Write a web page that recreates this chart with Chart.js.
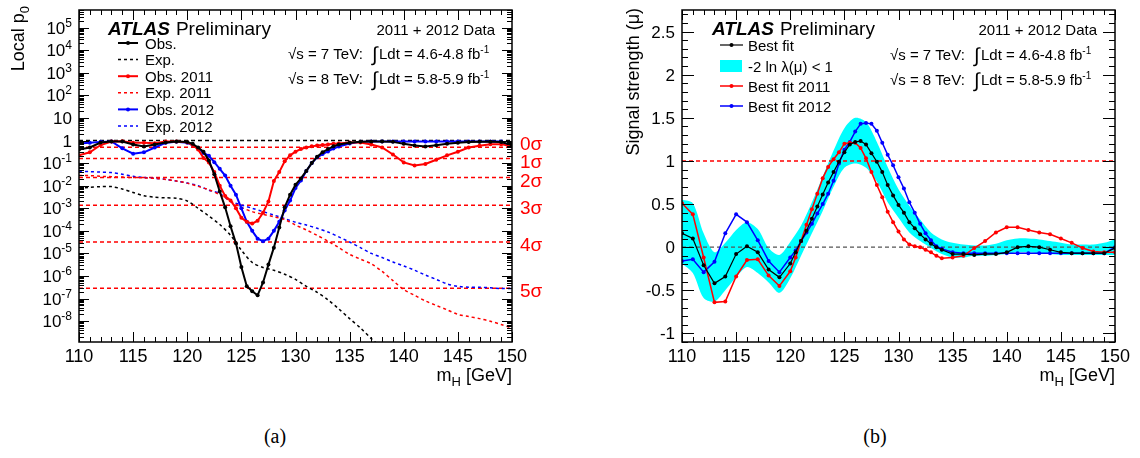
<!DOCTYPE html>
<html lang="en">
<head>
<meta charset="UTF-8" />
<title>Local p0 and signal strength vs mH</title>
<script src="https://cdn.jsdelivr.net/npm/chart.js@4.4.1/dist/chart.umd.min.js"></script>
<style>
  body { margin: 0; background: #fff; }
  #wrap { position: relative; width: 1140px; height: 458px; overflow: hidden; }
  canvas { position: absolute; top: 0; }
  #pvalue { left: 0; }
  #signal { left: 570px; }
  .caption {
    position: absolute; top: 425px; width: 60px; margin-left: -30px; text-align: center;
    font: 20px "Liberation Serif", "Times New Roman", serif;
  }
</style>
</head>
<body>
<div id="wrap">
  <canvas id="pvalue" width="570" height="400"></canvas>
  <canvas id="signal" width="570" height="400"></canvas>
  <div class="caption" style="left:275px">(a)</div>
  <div class="caption" style="left:875px">(b)</div>
</div>
<script>
// mass points in GeV
const massFine = [110, 111, 112, 113, 114, 115, 116, 117, 118, 119, 120,
  120.5, 121, 121.5, 122, 122.5, 123, 123.5, 124, 124.5, 125, 125.5, 126, 126.5, 127,
  127.5, 128, 128.5, 129, 129.5, 130, 130.5, 131, 131.5, 132, 132.5, 133, 133.5, 134,
  135, 136, 137, 138, 139, 140, 141, 142, 143, 144, 145, 146, 147, 148, 149, 150];
const massCoarse = [110, 111, 112, 113, 114, 115, 116, 117, 118, 119, 120, 121, 122, 123,
  124, 125, 126, 127, 128, 129, 130, 131, 132, 133, 134, 135, 136, 137, 138, 139, 140,
  141, 142, 143, 144, 145, 146, 147, 148, 149, 150];
const massRange = [110, 150];
const massTicks = [110, 115, 120, 125, 130, 135, 140, 145, 150];

// local p0, observed (fine grid)
const obsP0 = [0.40, 0.49, 0.81, 0.91, 0.91, 0.66, 0.54, 0.66, 0.81, 0.91, 0.85,
  0.71, 0.49, 0.32, 0.13, 0.032, 5.5e-3, 1.1e-3, 1.6e-4, 2.8e-5, 2.5e-6, 3.5e-7, 2.1e-7, 1.4e-7, 5.2e-7,
  3.2e-6, 1.8e-5, 1.4e-4, 1.1e-3, 4.0e-3, 0.011, 0.021, 0.045, 0.10, 0.19, 0.30, 0.42, 0.55, 0.66,
  0.79, 0.89, 0.91, 0.91, 0.87, 0.72, 0.60, 0.54, 0.62, 0.71, 0.79, 0.85, 0.89, 0.89, 0.85, 0.63];
const obs2011P0 = [0.22, 0.30, 0.63, 0.91, 0.93, 0.79, 0.79, 0.76, 0.91, 0.91, 0.83,
  0.63, 0.40, 0.17, 0.105, 0.040, 0.010, 3.5e-3, 2.2e-3, 1.0e-3, 3.8e-4, 2.5e-4, 2.1e-4, 2.8e-4, 6.3e-4,
  2.0e-3, 0.016, 0.040, 0.12, 0.22, 0.32, 0.42, 0.49, 0.55, 0.60, 0.63, 0.66, 0.71, 0.74,
  0.81, 0.81, 0.66, 0.49, 0.24, 0.107, 0.079, 0.091, 0.14, 0.22, 0.32, 0.49, 0.58, 0.69, 0.69, 0.54];
const obs2012P0 = [0.74, 0.79, 0.87, 0.91, 0.45, 0.26, 0.30, 0.49, 0.79, 0.87, 0.79,
  0.63, 0.47, 0.28, 0.21, 0.11, 0.056, 0.028, 0.010, 4.0e-3, 1.0e-3, 2.5e-4, 1.0e-4, 4.5e-5, 3.5e-5,
  4.5e-5, 1.0e-4, 2.5e-4, 7.9e-4, 2.2e-3, 7.9e-3, 0.017, 0.045, 0.10, 0.18, 0.25, 0.33, 0.44, 0.54,
  0.74, 0.87, 0.91, 0.91, 0.91, 0.91, 0.91, 0.91, 0.91, 0.91, 0.91, 0.91, 0.91, 0.91, 0.91, 0.54];

// local p0, expected (coarse grid; combined leaves the axis after 138 GeV)
const expP0 = [7.6e-3, 8.5e-3, 9.1e-3, 9.1e-3, 7.1e-3, 5.0e-3, 3.6e-3, 3.1e-3, 2.9e-3, 2.8e-3,
  2.1e-3, 1.0e-3, 4.5e-4, 1.9e-4, 6.3e-5, 1.4e-5, 4.0e-6, 2.4e-6, 1.8e-6, 1.2e-6, 7.1e-7,
  3.5e-7, 1.9e-7, 8.9e-8, 3.5e-8, 1.3e-8, 5.0e-9, 1.7e-9, 6.3e-10];
const exp2011P0 = [0.028, 0.028, 0.026, 0.025, 0.024, 0.023, 0.022, 0.021, 0.019, 0.016,
  0.013, 9.3e-3, 6.6e-3, 4.0e-3, 2.1e-3, 1.1e-3, 7.1e-4, 5.4e-4, 4.2e-4, 3.2e-4, 1.8e-4,
  1.1e-4, 6.3e-5, 3.5e-5, 1.8e-5, 9.1e-6, 5.6e-6, 3.5e-6, 1.6e-6, 6.3e-7, 2.5e-7,
  1.4e-7, 7.9e-8, 5.0e-8, 3.2e-8, 2.0e-8, 1.6e-8, 1.3e-8, 1.0e-8, 7.1e-9, 5.0e-9];
const exp2012P0 = [0.043, 0.042, 0.040, 0.038, 0.032, 0.026, 0.023, 0.021, 0.019, 0.016,
  0.013, 0.010, 6.3e-3, 4.5e-3, 2.0e-3, 1.4e-3, 1.0e-3, 7.1e-4, 5.0e-4, 3.5e-4, 2.4e-4,
  1.8e-4, 1.3e-4, 8.9e-5, 5.4e-5, 3.2e-5, 1.8e-5, 1.0e-5, 6.6e-6, 4.2e-6, 2.8e-6,
  1.8e-6, 1.1e-6, 7.1e-7, 4.5e-7, 3.5e-7, 3.2e-7, 3.2e-7, 3.0e-7, 2.8e-7, 2.8e-7];

const sigmaP0 = [0.5, 0.1587, 0.02275, 1.35e-3, 3.17e-5, 2.87e-7];
const sigmaNames = ['0σ', '1σ', '2σ', '3σ', '4σ', '5σ'];
const p0Exponents = [5, 4, 3, 2, 1, 0, -1, -2, -3, -4, -5, -6, -7, -8];

// signal strength best fits (fine grid)
const muBest = [0.16, 0.10, -0.21, -0.42, -0.34, -0.08, 0.01, -0.06, -0.26, -0.35, -0.19,
  -0.06, 0.07, 0.19, 0.33, 0.47, 0.61, 0.75, 0.87, 0.99, 1.10, 1.19, 1.22, 1.23, 1.19,
  1.09, 0.99, 0.87, 0.72, 0.60, 0.49, 0.40, 0.29, 0.22, 0.15, 0.09, 0.04, 0.00, -0.03,
  -0.08, -0.08, -0.09, -0.08, -0.08, -0.06, 0.00, 0.01, 0.00, -0.03, -0.06, -0.07, -0.07, -0.07, -0.07, -0.01];
const mu2011 = [0.51, 0.38, -0.12, -0.64, -0.63, -0.34, -0.15, -0.14, -0.33, -0.45, -0.28,
  -0.12, 0.07, 0.26, 0.44, 0.62, 0.80, 0.93, 1.02, 1.10, 1.20, 1.21, 1.21, 1.15, 1.03,
  0.87, 0.72, 0.58, 0.41, 0.29, 0.18, 0.09, 0.03, 0.01, 0.00, -0.03, -0.06, -0.10, -0.13,
  -0.12, -0.10, -0.01, 0.07, 0.17, 0.23, 0.23, 0.20, 0.17, 0.15, 0.10, 0.05, -0.01, -0.05, -0.06, -0.06];
const mu2012 = [-0.16, -0.14, -0.29, -0.17, 0.16, 0.38, 0.29, 0.08, -0.16, -0.29, -0.12,
  -0.04, 0.07, 0.17, 0.27, 0.39, 0.50, 0.62, 0.77, 0.97, 1.13, 1.22, 1.34, 1.43, 1.44,
  1.43, 1.35, 1.21, 1.07, 0.95, 0.81, 0.68, 0.52, 0.40, 0.27, 0.16, 0.08, 0.01, -0.02,
  -0.06, -0.07, -0.07, -0.07, -0.07, -0.07, -0.07, -0.07, -0.07, -0.07, -0.07, -0.07, -0.07, -0.07, -0.07, 0.00];

// -2 ln lambda(mu) < 1 band edges (coarse grid)
const muBandHi = [0.55, 0.51, 0.16, -0.06, 0.05, 0.20, 0.29, 0.21, -0.01, -0.09, 0.06,
  0.25, 0.52, 0.82, 1.12, 1.38, 1.50, 1.45, 1.22, 0.93, 0.67, 0.48, 0.32, 0.17, 0.09,
  0.05, 0.03, 0.02, 0.02, 0.04, 0.08, 0.10, 0.10, 0.09, 0.07, 0.05, 0.03, 0.03, 0.03, 0.05, 0.09];
const muBandLo = [-0.19, -0.30, -0.59, -0.63, -0.50, -0.35, -0.23, -0.30, -0.41, -0.53, -0.36,
  -0.10, 0.16, 0.42, 0.70, 0.92, 0.97, 0.92, 0.76, 0.52, 0.34, 0.17, 0.07, -0.01, -0.08,
  -0.12, -0.12, -0.10, -0.10, -0.09, -0.08, -0.06, -0.06, -0.07, -0.08, -0.09, -0.09, -0.09, -0.09, -0.09, -0.09];
const muTicks = [-1, -0.5, 0, 0.5, 1, 1.5, 2, 2.5];

const FONT = '"Liberation Sans", Arial, Helvetica, sans-serif';
const RED = '#ff0000', BLUE = '#0000ff', CYAN = '#00ffff';

const xy = (xs, ys) => ys.map((y, i) => ({ x: xs[i], y }));
const hline = v => massRange.map(x => ({ x, y: v }));

function solid(label, xs, ys, color, width) {
  return { label, data: xy(xs, ys), borderColor: color, backgroundColor: color,
    borderWidth: width, pointRadius: 2, pointBorderWidth: 0, fill: false, tension: 0 };
}
function dashed(label, xs, ys, color) {
  return { label, data: xy(xs, ys), borderColor: color, borderWidth: 1.5, borderDash: [3, 3],
    pointRadius: 0, fill: false, tension: 0.3 };
}
function refLine(v, color, width) {
  return { data: hline(v), borderColor: color, borderWidth: width, borderDash: [4, 3],
    pointRadius: 0, fill: false };
}

// text made of runs, for sub/superscripts
function runs(ctx, parts, x, y, align) {
  const font = p => `${p.style || ''} ${p.size}px ${FONT}`;
  let w = 0;
  for (const p of parts) { ctx.font = font(p); w += ctx.measureText(p.t).width + (p.gap || 0); }
  let cx = align === 'right' ? x - w : align === 'center' ? x - w / 2 : x;
  ctx.textAlign = 'left';
  ctx.textBaseline = 'alphabetic';
  for (const p of parts) {
    ctx.font = font(p);
    ctx.fillText(p.t, cx, y + (p.dy || 0));
    cx += ctx.measureText(p.t).width + (p.gap || 0);
  }
}

// inward ticks on all four sides, frame, x labels and x title
function frameAndTicks(chart, yMarks, yMaj, yMin) {
  const { ctx, chartArea: a, scales: { x } } = chart;
  const y = chart.scales.y;
  ctx.save();
  ctx.strokeStyle = '#000';
  ctx.lineWidth = 1;
  ctx.beginPath();
  for (let m = x.min; m <= x.max; m++) {
    const px = Math.round(x.getPixelForValue(m)) + 0.5;
    const len = m % 5 === 0 ? 10 : 5;
    ctx.moveTo(px, a.bottom); ctx.lineTo(px, a.bottom - len);
    ctx.moveTo(px, a.top); ctx.lineTo(px, a.top + len);
  }
  for (const t of yMarks) {
    const py = Math.round(y.getPixelForValue(t.v)) + 0.5;
    const len = t.major ? yMaj : yMin;
    ctx.moveTo(a.left, py); ctx.lineTo(a.left + len, py);
    ctx.moveTo(a.right, py); ctx.lineTo(a.right - len, py);
  }
  ctx.stroke();
  ctx.lineWidth = 1.5;
  ctx.strokeRect(a.left, a.top, a.right - a.left, a.bottom - a.top);
  ctx.fillStyle = '#000';
  for (const m of massTicks) runs(ctx, [{ t: String(m), size: 18 }], x.getPixelForValue(m), a.bottom + 20, 'center');
  runs(ctx, [{ t: 'm', size: 18 }, { t: 'H', size: 13, dy: 5 }, { t: ' [GeV]', size: 18 }],
    a.right, a.bottom + 39, 'right');
  ctx.restore();
}

function header(ctx, atlasX, x0, xr, b) {
  ctx.fillStyle = '#000';
  runs(ctx, [{ t: 'ATLAS', size: 19, style: 'italic bold', gap: 6 }, { t: 'Preliminary', size: 19 }], atlasX, 35);
  runs(ctx, [{ t: '2011 + 2012 Data', size: 15 }], xr, b[0], 'right');
  [['7', '4.6-4.8', b[1]], ['8', '5.8-5.9', b[2]]].forEach(([e, l, base]) => {
    runs(ctx, [{ t: '√s = ' + e + ' TeV:', size: 15 }], x0, base);
    runs(ctx, [{ t: '∫', size: 20, dy: 2 }], x0 + 84, base);
    runs(ctx, [{ t: 'Ldt = ' + l + ' fb', size: 15 }, { t: '-1', size: 10, dy: -6 }], x0 + 91, base);
  });
}

function legendRow(ctx, ds, x1, x2, cy, textX) {
  ctx.strokeStyle = ds.borderColor;
  ctx.lineWidth = ds.borderWidth;
  ctx.setLineDash(ds.borderDash || []);
  ctx.beginPath(); ctx.moveTo(x1, cy); ctx.lineTo(x2, cy); ctx.stroke();
  ctx.setLineDash([]);
  if (ds.pointRadius) {
    ctx.fillStyle = ds.borderColor;
    ctx.beginPath(); ctx.arc((x1 + x2) / 2, cy, 2, 0, 2 * Math.PI); ctx.fill();
  }
  ctx.fillStyle = '#000';
  runs(ctx, [{ t: ds.label, size: 15 }], textX, cy + 5.5);
}

function baseOptions(yScale, yWidth, rightPad) {
  return {
    responsive: false, animation: false, events: [], devicePixelRatio: 1,
    layout: { padding: { top: 10, right: rightPad, bottom: 0, left: 0 } },
    scales: {
      x: { type: 'linear', min: massRange[0], max: massRange[1], grid: { display: false },
        border: { display: false }, ticks: { display: false }, afterFit: s => { s.height = 58; } },
      y: Object.assign({ grid: { display: false }, border: { display: false },
        ticks: { display: false }, afterFit: s => { s.width = yWidth; } }, yScale)
    },
    plugins: { legend: { display: false }, tooltip: { enabled: false } }
  };
}

const pvalueDecor = {
  id: 'pvalueDecor',
  afterDatasetsDraw(chart) {
    const { ctx, chartArea: a, scales: { y } } = chart;
    const marks = [];
    for (let e = -9; e <= 5; e++) {
      for (let k = 1; k <= 9; k++) {
        const v = k * Math.pow(10, e);
        if (v >= y.min && v <= y.max) marks.push({ v, major: k === 1 });
      }
    }
    frameAndTicks(chart, marks, 10, 5);
    ctx.save();
    ctx.fillStyle = '#000';
    for (const e of p0Exponents) {
      const base = y.getPixelForValue(Math.pow(10, e)) + 6;
      const parts = e === 0 ? [{ t: '1', size: 17 }] : e === 1 ? [{ t: '10', size: 17 }]
        : [{ t: '10', size: 17 }, { t: String(e), size: 12, dy: -7 }];
      runs(ctx, parts, a.left - 7, base, 'right');
    }
    ctx.save();
    ctx.translate(24, 6);
    ctx.rotate(-Math.PI / 2);
    runs(ctx, [{ t: 'Local p', size: 18 }, { t: '0', size: 13, dy: 5 }], 0, 0, 'right');
    ctx.restore();
    ctx.fillStyle = RED;
    sigmaP0.forEach((p, i) => {
      runs(ctx, [{ t: sigmaNames[i], size: 19 }], a.right + 8, y.getPixelForValue(p) + (i === 0 ? 3 : 9));
    });
    header(ctx, 108, 288, 495, [35, 59, 84]);
    [0, 3, 1, 4, 2, 5].forEach((di, r) => {
      legendRow(ctx, chart.data.datasets[di], 118, 138, 43 + r * 16.6, 145);
    });
    ctx.restore();
  }
};

const signalDecor = {
  id: 'signalDecor',
  afterDatasetsDraw(chart) {
    const { ctx, chartArea: a, scales: { y } } = chart;
    const marks = [];
    for (let i = Math.ceil(y.min * 10); i <= Math.floor(y.max * 10); i++) {
      marks.push({ v: i / 10, major: i % 5 === 0 });
    }
    frameAndTicks(chart, marks, 12, 6);
    ctx.save();
    ctx.fillStyle = '#000';
    for (const v of muTicks) {
      runs(ctx, [{ t: String(v), size: 17 }], a.left - 7, y.getPixelForValue(v) + 6, 'right');
    }
    ctx.save();
    ctx.translate(69, 8);
    ctx.rotate(-Math.PI / 2);
    runs(ctx, [{ t: 'Signal strength (μ)', size: 18 }], 0, 0, 'right');
    ctx.restore();
    header(ctx, 142, 320, 527, [35, 60, 85]);
    const ds = chart.data.datasets;
    legendRow(ctx, ds[0], 150, 173, 45, 178);
    ctx.fillStyle = CYAN;
    ctx.fillRect(150, 60, 22, 12);
    ctx.fillStyle = '#000';
    runs(ctx, [{ t: ds[5].label, size: 15 }], 178, 71.5);
    legendRow(ctx, ds[1], 150, 173, 86, 178);
    legendRow(ctx, ds[2], 150, 173, 106, 178);
    ctx.restore();
  }
};

new Chart(document.getElementById('pvalue'), {
  type: 'line',
  data: {
    datasets: [
      solid('Obs.', massFine, obsP0, '#000', 2),
      solid('Obs. 2011', massFine, obs2011P0, RED, 2),
      solid('Obs. 2012', massFine, obs2012P0, BLUE, 2),
      dashed('Exp.', massCoarse, expP0, '#000'),
      dashed('Exp. 2011', massCoarse, exp2011P0, RED),
      dashed('Exp. 2012', massCoarse, exp2012P0, BLUE),
      refLine(1, '#000', 1.5),
      ...sigmaP0.map(p => refLine(p, RED, 1.5))
    ]
  },
  options: baseOptions({ type: 'logarithmic', min: 1.2e-9, max: 6e5 }, 79, 58),
  plugins: [pvalueDecor]
});

new Chart(document.getElementById('signal'), {
  type: 'line',
  data: {
    datasets: [
      solid('Best fit', massFine, muBest, '#000', 1.2),
      solid('Best fit 2011', massFine, mu2011, RED, 1.5),
      solid('Best fit 2012', massFine, mu2012, BLUE, 1.5),
      refLine(1, RED, 1.5),
      refLine(0, '#555', 1.2),
      { label: '-2 ln λ(μ) < 1', data: xy(massCoarse, muBandHi), borderColor: 'transparent',
        backgroundColor: CYAN, borderWidth: 1, pointRadius: 0, fill: '+1', tension: 0.3 },
      { data: xy(massCoarse, muBandLo), borderColor: 'transparent', borderWidth: 1,
        pointRadius: 0, fill: false, tension: 0.3 }
    ]
  },
  options: baseOptions({ type: 'linear', min: -1.1, max: 2.75 }, 112, 25),
  plugins: [signalDecor]
});
</script>
</body>
</html>
